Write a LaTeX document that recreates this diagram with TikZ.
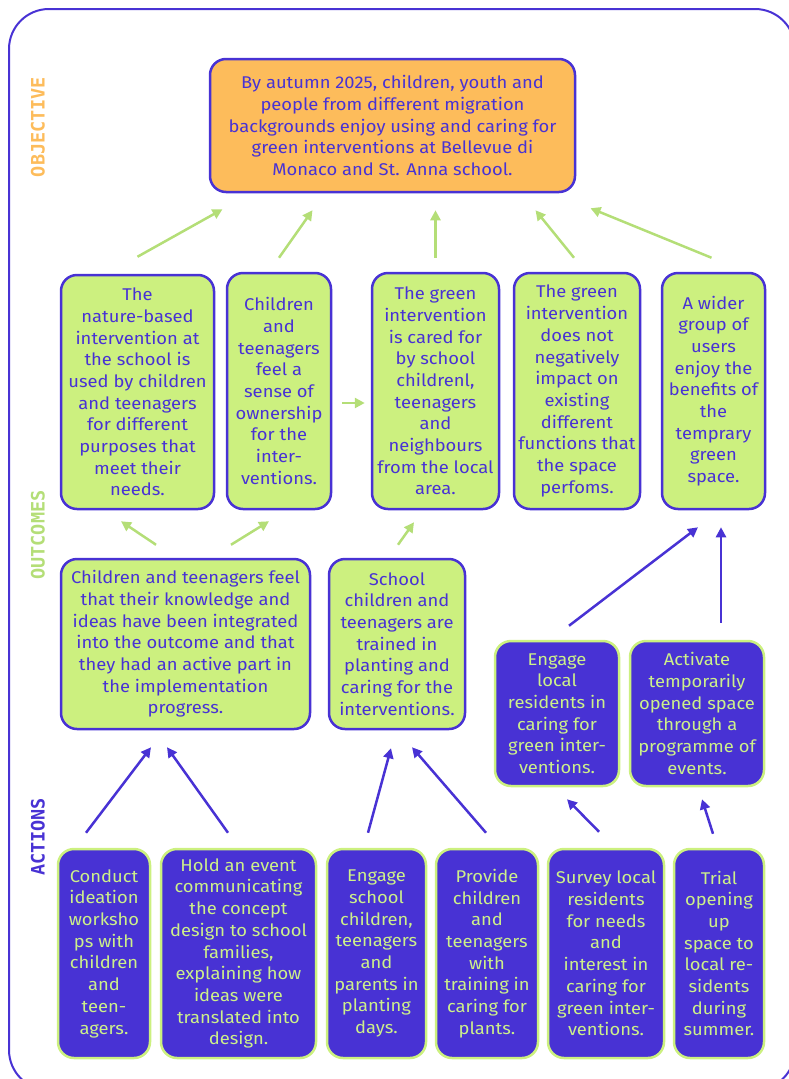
\documentclass[tikz,border=0pt]{standalone}
\usepackage{fontspec}
\setmainfont{Fira Sans}[FakeStretch=1.08]
\newfontfamily\labelfont{DejaVu Sans Mono}
\usetikzlibrary{arrows.meta,calc}
\definecolor{tocpurple}{HTML}{4832D4}
\definecolor{tocgreen}{HTML}{CCF07F}
\definecolor{toctext}{HTML}{CDF08A}
\definecolor{tocarrow}{HTML}{B4DE77}
\definecolor{tocorange}{HTML}{FDBC5B}
\newcommand{\boxfont}{\fontsize{17}{21.7}\selectfont}
\begin{document}
\begin{tikzpicture}[x=1pt, y=-1pt,
    outcome/.style={rectangle, rounded corners=16pt, draw=tocpurple, line width=2.5pt, fill=tocgreen, text=tocpurple, align=center, inner sep=1pt, font=\boxfont},
    action/.style={outcome, draw=tocgreen, fill=tocpurple, text=toctext},
    goal/.style={outcome, fill=tocorange},
    sidelabel/.style={rotate=90, font=\labelfont\bfseries\fontsize{18.5}{20}\selectfont},
    flow/.style={-{Triangle[length=10pt,width=10pt]}, line width=2.5pt, tocarrow},
    pflow/.style={flow, tocpurple}
]
\useasboundingbox (0,0) rectangle (789,1079);
\clip (0,0) rectangle (789,1079);

% Frame and side labels
\draw[tocpurple, line width=2pt, rounded corners=40pt] (9,9) rectangle (795,1090);
\node[sidelabel, text=tocorange] (lobj) at (38,127) {OBJECTIVE};
\node[sidelabel, text=tocarrow] (lout) at (38,535) {OUTCOMES};
\node[sidelabel, text=tocpurple] (lact) at (38,837) {ACTIONS};

% Objective
\node[goal, minimum width=365pt, minimum height=133pt] (obj) at (392.5,125.5) {By autumn 2025, children, youth and\\people from different migration\\backgrounds enjoy using and caring for\\green interventions at Bellevue di\\Monaco and St. Anna school.};

% Outcomes
\node[outcome, minimum width=153pt, minimum height=234pt] (use) at (137.5,392) {The\\nature-based\\intervention at\\the school is\\used by children\\and teenagers\\for different\\purposes that\\meet their\\needs.};
\node[outcome, minimum width=104pt, minimum height=236pt] (own) at (279,391) {Children\\and\\teenagers\\feel a\\sense of\\ownership\\for the\\inter-\\ventions.};
\node[outcome, minimum width=127pt, minimum height=236pt] (care) at (435.5,391) {The green\\intervention\\is cared for\\by school\\childrenl,\\teenagers\\and\\neighbours\\from the local\\area.};
\node[outcome, minimum width=126pt, minimum height=236pt] (impact) at (577,391) {The green\\intervention\\does not\\negatively\\impact on\\existing\\different\\functions that\\the space\\perfoms.};
\node[outcome, minimum width=103pt, minimum height=236pt] (users) at (713.5,391) {A wider\\group of\\users\\enjoy the\\benefits of\\the\\temprary\\green\\space.};
\node[outcome, minimum width=249pt, minimum height=170pt] (ideas) at (185.5,644) {Children and teenagers feel\\that their knowledge and\\ideas have been integrated\\into the outcome and that\\they had an active part in\\the implementation\\progress.};
\node[outcome, minimum width=136pt, minimum height=170pt] (trained) at (397,644) {School\\children and\\teenagers are\\trained in\\planting and\\caring for the\\interventions.};

% Actions
\node[action, minimum width=124pt, minimum height=145pt] (engage) at (557,713.5) {Engage\\local\\residents in\\caring for\\green inter-\\ventions.};
\node[action, minimum width=134pt, minimum height=145pt] (activate) at (697,713.5) {Activate\\temporarily\\opened space\\through a\\programme of\\events.};
\node[action, minimum width=92pt, minimum height=209pt] (workshop) at (104,953.5) {Conduct\\ideation\\worksho\\ps with\\children\\and\\teen-\\agers.};
\node[action, minimum width=155pt, minimum height=209pt] (event) at (238.5,953.5) {Hold an event\\communicating\\the concept\\design to school\\families,\\explaining how\\ideas were\\translated into\\design.};
\node[action, minimum width=99pt, minimum height=209pt] (planting) at (376.5,953.5) {Engage\\school\\children,\\teenagers\\and\\parents in\\planting\\days.};
\node[action, minimum width=102pt, minimum height=209pt] (training) at (487,953.5) {Provide\\children\\and\\teenagers\\with\\training in\\caring for\\plants.};
\node[action, minimum width=116pt, minimum height=209pt] (survey) at (606,953.5) {Survey local\\residents\\for needs\\and\\interest in\\caring for\\green inter-\\ventions.};
\node[action, minimum width=90pt, minimum height=209pt] (trial) at (719,953.5) {Trial\\opening\\up\\space to\\local re-\\sidents\\during\\summer.};

% Outcome flows
\draw[flow] ($(use.north)+(0,-17)$) -- ($(obj.south)+(-170,16)$);
\draw[flow] ($(own.north)+(0,-14)$) -- ($(obj.south)+(-80,17)$);
\draw[flow] ($(care.north)+(0,-14)$) -- ($(obj.south)+(43,17)$);
\draw[flow] ($(impact.north)+(-3,-14)$) -- ($(obj.south)+(143,17)$);
\draw[flow] ($(users.north)+(-2,-14)$) -- ($(obj.south)+(198,15)$);
\draw[flow] ($(own.east)+(10,12)$) -- ($(care.west)+(-6,12)$);
\draw[flow] ($(ideas.north)+(-29.5,-13)$) -- ($(use.south)+(-16.5,11)$);
\draw[flow] ($(ideas.north)+(45.5,-13)$) -- ($(own.south)+(-10,11)$);
\draw[flow] ($(trained.north)+(1,-13)$) -- ($(care.south)+(-21.5,12)$);

% Action flows
\draw[pflow] ($(workshop.north)+(-18,-15)$) -- ($(ideas.south)+(-34.5,17)$);
\draw[pflow] ($(event.north)+(-10.5,-15)$) -- ($(ideas.south)+(-18.5,17)$);
\draw[pflow] ($(planting.north)+(-8.5,-15)$) -- ($(trained.south)+(-6,18)$);
\draw[pflow] ($(training.north)+(-1,-15)$) -- ($(trained.south)+(15,17)$);
\draw[pflow] ($(survey.north)+(-7,-16)$) -- ($(engage.south)+(10,12)$);
\draw[pflow] ($(trial.north)+(-6,-14)$) -- ($(activate.south)+(5,12)$);
\draw[pflow] ($(engage.north)+(12,-14)$) -- ($(users.south)+(-15.5,17)$);
\draw[pflow] ($(activate.north)+(24,-17)$) -- ($(users.south)+(7.5,17)$);

\end{tikzpicture}
\end{document}
